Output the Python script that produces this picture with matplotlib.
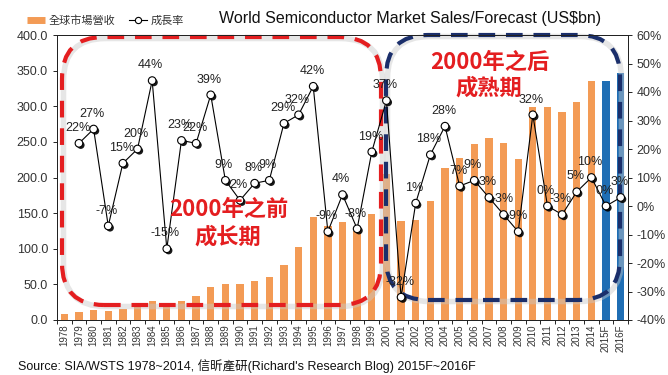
import matplotlib
matplotlib.use("Agg")
import matplotlib.pyplot as plt
import matplotlib.patheffects as pe
import matplotlib.transforms as mtransforms
from matplotlib.patches import FancyBboxPatch
from matplotlib.lines import Line2D
from matplotlib.ticker import FormatStrFormatter
import numpy as np

plt.rcParams["font.family"] = ["Liberation Sans", "Noto Sans CJK TC", "DejaVu Sans"]

# 資料
years = [str(y) for y in range(1978, 2015)] + ["2015F", "2016F"]
sales = [9.0, 11.0, 14.0, 13.0, 14.9, 17.9, 26.3, 21.3, 26.4, 33.0,
         46.0, 50.0, 50.5, 54.6, 59.9, 77.3, 101.9, 144.4, 132.0, 137.2,
         125.6, 149.4, 204.4, 139.0, 140.7, 166.4, 213.0, 227.5, 247.7, 255.6,
         248.6, 226.3, 298.3, 299.5, 291.6, 305.6, 335.8, 336.0, 347.0]
# 成長率 (1979 起)
growth = [22, 27, -7, 15, 20, 44, -15, 23, 22, 39,
          9, 2, 8, 9, 29, 32, 42, -9, 4, -8,
          19, 37, -32, 1, 18, 28, 7, 9, 3, -3,
          -9, 32, 0, -3, 5, 10, 0, 3]
n_forecast = 2

orange = "#F39B55"
blue = "#1F6EB4"
red = "#E41E20"
navy = "#1B2F6B"
txt = "#333333"

fig = plt.figure(figsize=(6.68, 3.75), dpi=100)
ax = fig.add_axes([57 / 668, 1 - 320 / 375, (628 - 57) / 668, (320 - 35) / 375])
ax2 = ax.twinx()

x = np.arange(len(years))
colors = [orange] * (len(years) - n_forecast) + [blue] * n_forecast
ax.bar(x, sales, width=0.5, color=colors, zorder=2)
ax.set_xlim(-0.5, len(years) - 0.5)
ax.set_ylim(0, 400)
ax.set_yticks(np.arange(0, 401, 50))
ax.yaxis.set_major_formatter(FormatStrFormatter("%.1f"))
ax.set_xticks(x)
ax.set_xticklabels(years, rotation=90, fontsize=7, color=txt)
ax.set_xticks(np.arange(-0.5, len(years)), minor=True)
ax.tick_params(axis="x", which="major", length=0, pad=3)
ax.tick_params(axis="x", which="minor", length=3, width=0.6)
ax.tick_params(axis="y", labelsize=9, labelcolor=txt, length=3, width=0.6)

ax2.set_ylim(-40, 60)
ax2.set_yticks(np.arange(-40, 61, 10))
ax2.yaxis.set_major_formatter(FormatStrFormatter("%d%%"))
ax2.tick_params(axis="y", labelsize=9, labelcolor=txt, length=3, width=0.6, pad=3)
for a in (ax, ax2):
    for s in a.spines.values():
        s.set_linewidth(0.7)
        s.set_color("#222222")

# 虛線圓角框 (以輸出像素座標, y 朝上)
px = mtransforms.Affine2D().scale(1 / 668, 1 / 375) + fig.transFigure
boxes = [(62, 70, 381 - 62, 338 - 70, red), (386, 75, 620 - 386, 340 - 75, navy)]
for bx, by, bw, bh, col in boxes:
    glow = FancyBboxPatch((bx + 1.5, by - 1.5), bw, bh,
                          boxstyle="round,pad=0,rounding_size=42",
                          fill=False, ec="#c8c8c8", lw=4, alpha=0.45,
                          transform=px, clip_on=False, zorder=2.4)
    box = FancyBboxPatch((bx, by), bw, bh,
                         boxstyle="round,pad=0,rounding_size=42",
                         fill=False, ec=col, lw=3, ls=(0, (4, 2.6)),
                         transform=px, clip_on=False, zorder=2.5)
    ax.add_patch(glow)
    ax.add_patch(box)

# 成長率線
gx = x[1:]
ax2.plot(gx, growth, color="black", lw=0.8, zorder=3)
ax2.plot(gx, growth, ls="none", marker="o", ms=5.5, mfc="white", mec="black",
         mew=0.8, zorder=4,
         path_effects=[pe.SimplePatchShadow(offset=(1.3, -1.3), shadow_rgbFace="black", alpha=0.9),
                       pe.Normal()])
for xi, v in zip(gx, growth):
    ax2.annotate(f"{v}%", (xi, v), xytext=(-1, 11), textcoords="offset points",
                 ha="center", va="center", fontsize=9, color="#222222", zorder=5)

# 說明文字
cjk = ["Noto Sans CJK SC", "DejaVu Sans"]
fig.text(229 / 668, 1 - 209 / 375, "2000年之前", color=red, fontsize=16,
         fontweight="bold", family=cjk, ha="center", va="center", zorder=6)
fig.text(228 / 668, 1 - 237 / 375, "成长期", color=red, fontsize=16,
         fontweight="bold", family=cjk, ha="center", va="center", zorder=6)
fig.text(490 / 668, 1 - 62 / 375, "2000年之后", color=red, fontsize=16,
         fontweight="bold", family=cjk, ha="center", va="center", zorder=6)
fig.text(489 / 668, 1 - 88 / 375, "成熟期", color=red, fontsize=16,
         fontweight="bold", family=cjk, ha="center", va="center", zorder=6)

# 標題與圖例
fig.text(410 / 668, 1 - 19 / 375, "World Semiconductor Market Sales/Forecast (US$bn)",
         fontsize=11.5, ha="center", va="center", color="#111111")
handles = [Line2D([], [], color=orange, lw=5, solid_capstyle="butt"),
           Line2D([], [], color="black", lw=0.8, marker="o", ms=4.5, mfc="white", mec="black", mew=0.8)]
fig.legend(handles, ["全球市場營收", "成長率"], loc="center left",
           bbox_to_anchor=(27 / 668, 1 - 21 / 375), ncol=2, frameon=False,
           fontsize=8, handlelength=1.6, handletextpad=0.3, columnspacing=1.3,
           borderpad=0, borderaxespad=0, labelcolor=txt)

fig.text(18 / 668, 1 - 366 / 375,
         "Source: SIA/WSTS 1978~2014, 信昕產研(Richard's Research Blog) 2015F~2016F",
         fontsize=9, ha="left", va="center", color="#111111")

fig.savefig("out.png", dpi=100)
